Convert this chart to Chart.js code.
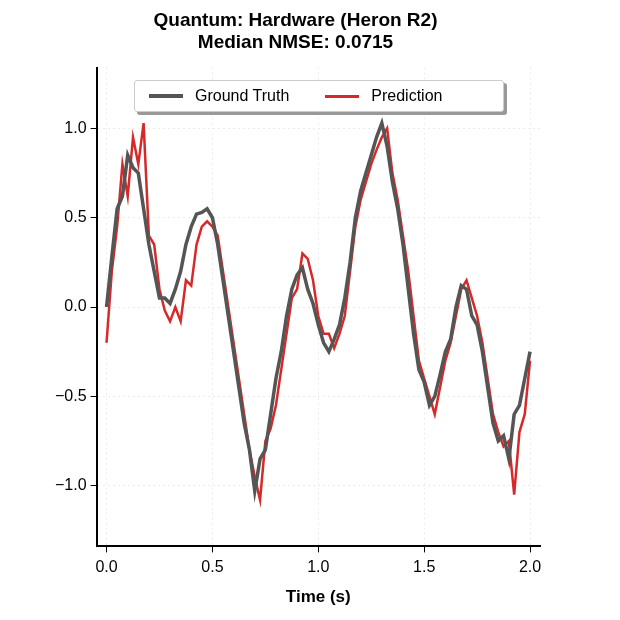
<!DOCTYPE html>
<html>
<head>
<meta charset="utf-8">
<script src="https://cdn.jsdelivr.net/npm/chart.js@4.4.0/dist/chart.umd.min.js"></script>
<style>
  body { margin: 0; background: #fff; font-family: "Liberation Sans", Arial, sans-serif; }
  #wrap { position: relative; width: 620px; height: 620px; }
  #legend {
    position: absolute; left: 134px; top: 80px; width: 368px; height: 30px;
    border: 1px solid #ccc; border-radius: 3px; background: #fff;
    box-shadow: 3px 3px 0 #999; display: flex; align-items: center;
    font-size: 16px; color: #000;
  }
  #legend span.line { display: inline-block; width: 34px; height: 4px; margin: 0 12px 0 14px; }
</style>
</head>
<body>
<div id="wrap">
  <canvas id="chart" width="620" height="620"></canvas>
  <div id="legend">
    <span class="line" style="background:#555"></span>Ground Truth
    <span class="line" style="background:#d62a2a;margin-left:36px;height:3px"></span>Prediction
  </div>
</div>
<script>
const times = [0.00,0.025,0.05,0.075,0.10,0.125,0.15,0.175,0.20,0.225,0.25,0.275,0.30,0.325,0.35,0.375,0.40,0.425,0.45,0.475,
  0.50,0.525,0.55,0.575,0.60,0.625,0.65,0.675,0.70,0.725,0.75,0.775,0.80,0.825,0.85,0.875,0.90,0.925,0.95,0.975,
  1.00,1.025,1.05,1.075,1.10,1.125,1.15,1.175,1.20,1.225,1.25,1.275,1.30,1.325,1.35,1.375,1.40,1.425,1.45,1.475,
  1.50,1.525,1.55,1.575,1.60,1.625,1.65,1.675,1.70,1.725,1.75,1.775,1.80,1.825,1.85,1.875,1.90,1.925,1.95,1.975,2.00];

const groundTruth = [0.0,0.28,0.55,0.62,0.85,0.78,0.75,0.55,0.35,0.2,0.05,0.05,0.02,0.1,0.2,0.35,0.45,0.52,0.53,0.55,
  0.5,0.35,0.15,-0.05,-0.25,-0.45,-0.65,-0.8,-1.03,-0.85,-0.8,-0.6,-0.4,-0.25,-0.05,0.1,0.18,0.22,0.1,0.02,
  -0.1,-0.2,-0.25,-0.18,-0.1,0.05,0.25,0.5,0.65,0.75,0.85,0.95,1.03,0.9,0.7,0.55,0.35,0.1,-0.15,-0.35,
  -0.42,-0.55,-0.5,-0.38,-0.25,-0.18,0.0,0.12,0.1,-0.05,-0.1,-0.25,-0.45,-0.65,-0.75,-0.72,-0.85,-0.6,-0.55,-0.4,-0.25];

const prediction = [-0.2,0.2,0.45,0.8,0.62,0.95,0.8,1.03,0.4,0.35,0.1,-0.02,-0.08,0.0,-0.08,0.15,0.12,0.35,0.45,0.48,
  0.45,0.4,0.2,0.0,-0.2,-0.4,-0.6,-0.8,-0.95,-1.08,-0.75,-0.68,-0.55,-0.35,-0.15,0.05,0.1,0.3,0.27,0.15,
  -0.05,-0.15,-0.15,-0.23,-0.15,-0.05,0.2,0.45,0.6,0.7,0.8,0.88,0.95,1.0,0.75,0.6,0.4,0.2,-0.05,-0.3,
  -0.4,-0.5,-0.6,-0.45,-0.3,-0.2,-0.05,0.1,0.15,0.05,-0.05,-0.2,-0.4,-0.6,-0.7,-0.78,-0.75,-1.05,-0.7,-0.6,-0.3];

const xTicks = [0.0, 0.5, 1.0, 1.5, 2.0];
const yTicks = [-1.0, -0.5, 0.0, 0.5, 1.0];

const fontFamily = '"Liberation Sans", Arial, sans-serif';

new Chart(document.getElementById("chart"), {
    type: "line",
    data: {
        datasets: [
            {
                label: "Ground Truth",
                data: times.map((t, i) => ({ x: t, y: groundTruth[i] })),
                borderColor: "#555555",
                borderWidth: 3.5,
                pointRadius: 0,
                tension: 0
            },
            {
                label: "Prediction",
                data: times.map((t, i) => ({ x: t, y: prediction[i] })),
                borderColor: "#d62a2a",
                borderWidth: 2.5,
                pointRadius: 0,
                tension: 0
            }
        ]
    },
    options: {
        responsive: false,
        animation: false,
        layout: { padding: { left: 51, right: 80, top: 10, bottom: 8 } },
        plugins: {
            legend: { display: false },
            tooltip: { enabled: false },
            title: {
                display: true,
                text: ["Quantum: Hardware (Heron R2)", "Median NMSE: 0.0715"],
                color: "#000",
                font: { family: fontFamily, size: 19, weight: "bold", lineHeight: 1.15 },
                padding: { top: 0, bottom: 14 }
            }
        },
        scales: {
            x: {
                type: "linear",
                min: -0.047, max: 2.047,
                afterBuildTicks: axis => { axis.ticks = xTicks.map(v => ({ value: v })); },
                ticks: { color: "#000", font: { family: fontFamily, size: 16 }, callback: v => v.toFixed(1), padding: 6 },
                grid: { color: "#ececec", tickColor: "#000", tickLength: 6, tickBorderDash: [] },
                border: { color: "#000", width: 2, dash: [2, 3] },
                title: { display: true, text: "Time (s)", color: "#000", font: { family: fontFamily, size: 17, weight: "bold" }, padding: { top: 4 } }
            },
            y: {
                min: -1.34, max: 1.34,
                afterBuildTicks: axis => { axis.ticks = yTicks.map(v => ({ value: v })); },
                ticks: { color: "#000", font: { family: fontFamily, size: 16 }, callback: v => (v < 0 ? "\u2212" + Math.abs(v).toFixed(1) : v.toFixed(1)), padding: 4 },
                grid: { color: "#ececec", tickColor: "#000", tickLength: 6, tickBorderDash: [] },
                border: { color: "#000", width: 2, dash: [2, 3] }
            }
        }
    }
});
</script>
</body>
</html>
